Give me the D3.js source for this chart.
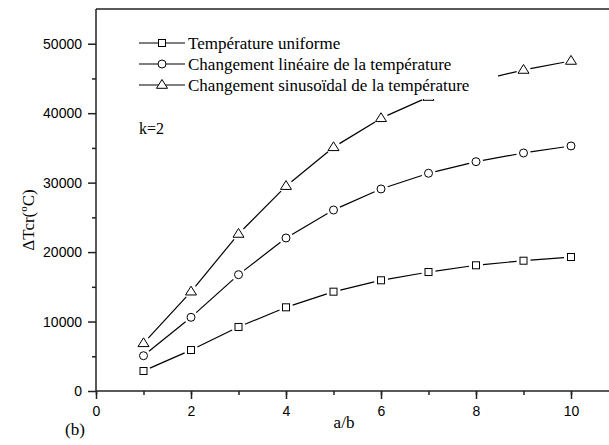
<!DOCTYPE html>
<html>
<head>
<meta charset="utf-8">
<script src="https://cdn.jsdelivr.net/npm/d3@7"></script>
<style>
  html, body { margin: 0; padding: 0; background: #fff; }
  svg { display: block; }
</style>
</head>
<body>
<svg id="chart" width="609" height="445"></svg>
<script>
// a/b ratios
const ratios = [1, 2, 3, 4, 5, 6, 7, 8, 9, 10];
// critical temperature difference (°C) for each temperature field
const uniformTemp = [2880, 5900, 9220, 12050, 14300, 15940, 17130, 18100, 18760, 19290];
const linearTemp  = [5080, 10610, 16750, 22030, 26060, 29090, 31350, 33020, 34270, 35280];
const sineTemp    = [6870, 14300, 22610, 29500, 35090, 39270, 42330, 44600, 46220, 47520];

const seriesNames = [
  "Température uniforme",
  "Changement linéaire de la température",
  "Changement sinusoïdal de la température"
];
const xTicks = [0, 2, 4, 6, 8, 10];
const yTicks = [0, 10000, 20000, 30000, 40000, 50000];

const svg = d3.select("#chart");
const plotLeft = 96, plotRight = 618.5, plotTop = 9, plotBottom = 391;

const x = d3.scaleLinear().domain([0, 11]).range([plotLeft, plotRight]);
const y = d3.scaleLinear().domain([0, 55000]).range([plotBottom, plotTop]);

const axisColor = "#222";
const sansFont = "'Liberation Sans', Arial, sans-serif";
const serifFont = "'Liberation Serif', 'Times New Roman', serif";

// frame: top edge
svg.append("line")
  .attr("x1", plotLeft).attr("x2", plotRight)
  .attr("y1", plotTop).attr("y2", plotTop)
  .attr("stroke", axisColor).attr("stroke-width", 1.5);

// x axis: minor ticks, then labelled major ticks
const xAxis = svg.append("g").attr("transform", `translate(0,${plotBottom})`);
xAxis.append("g")
  .call(d3.axisBottom(x).tickValues(d3.range(0, 12, 1)).tickSize(4).tickFormat(""))
  .call(g => g.select(".domain").remove())
  .call(g => g.selectAll(".tick line").attr("stroke", axisColor).attr("stroke-width", 1.5));
xAxis.append("g")
  .call(d3.axisBottom(x).tickValues(xTicks).tickSize(8).tickPadding(7))
  .call(g => g.select(".domain").remove())
  .call(g => g.selectAll(".tick line").attr("stroke", axisColor).attr("stroke-width", 1.5))
  .call(g => g.selectAll("text").attr("font-family", sansFont).attr("font-size", 14).attr("fill", "#000"));
svg.append("line")
  .attr("x1", plotLeft).attr("x2", plotRight)
  .attr("y1", plotBottom).attr("y2", plotBottom)
  .attr("stroke", axisColor).attr("stroke-width", 1.5);

// y axis: minor ticks, then labelled major ticks
const yAxis = svg.append("g").attr("transform", `translate(${plotLeft},0)`);
yAxis.append("g")
  .call(d3.axisLeft(y).tickValues(d3.range(5000, 55000, 10000)).tickSize(4).tickFormat(""))
  .call(g => g.select(".domain").remove())
  .call(g => g.selectAll(".tick line").attr("stroke", axisColor).attr("stroke-width", 1.5));
yAxis.append("g")
  .call(d3.axisLeft(y).tickValues(yTicks).tickSize(8).tickPadding(6).tickFormat(d3.format("d")))
  .call(g => g.select(".domain").remove())
  .call(g => g.selectAll(".tick line").attr("stroke", axisColor).attr("stroke-width", 1.5))
  .call(g => g.selectAll("text").attr("font-family", sansFont).attr("font-size", 14).attr("fill", "#000"));
svg.append("line")
  .attr("x1", plotLeft).attr("x2", plotLeft)
  .attr("y1", plotTop).attr("y2", plotBottom)
  .attr("stroke", axisColor).attr("stroke-width", 1.5);

// marker shapes
function drawMarker(g, kind, cx, cy) {
  if (kind === 0) {
    g.append("rect").attr("x", cx - 3.5).attr("y", cy - 3.5).attr("width", 7).attr("height", 7)
      .attr("fill", "#fff").attr("stroke", "#000").attr("stroke-width", 1);
  } else if (kind === 1) {
    g.append("circle").attr("cx", cx).attr("cy", cy).attr("r", 4)
      .attr("fill", "#fff").attr("stroke", "#000").attr("stroke-width", 1);
  } else {
    const s = 5.5;
    g.append("path")
      .attr("d", `M${cx},${cy - s}L${cx + s},${cy + s * 0.6}L${cx - s},${cy + s * 0.6}Z`)
      .attr("fill", "#fff").attr("stroke", "#000").attr("stroke-width", 1);
  }
}

// series: segments with a small gap around each marker
const series = [uniformTemp, linearTemp, sineTemp];
const gap = 7;
series.forEach((vals, k) => {
  const g = svg.append("g");
  const pts = ratios.map((r, i) => [x(r), y(vals[i])]);
  for (let i = 0; i < pts.length - 1; i++) {
    const [x1, y1] = pts[i], [x2, y2] = pts[i + 1];
    const dx = x2 - x1, dy = y2 - y1, len = Math.hypot(dx, dy);
    const ux = dx / len, uy = dy / len;
    g.append("line")
      .attr("x1", x1 + ux * gap).attr("y1", y1 + uy * gap)
      .attr("x2", x2 - ux * gap).attr("y2", y2 - uy * gap)
      .attr("stroke", "#000").attr("stroke-width", 1.2);
  }
  pts.forEach(p => drawMarker(g, k, p[0], p[1]));
});

// legend with opaque background
const legend = svg.append("g");
legend.append("rect")
  .attr("x", 128).attr("y", 27).attr("width", 370).attr("height", 72)
  .attr("fill", "#fff");
const rowY = [43, 64, 85];
seriesNames.forEach((name, k) => {
  legend.append("line")
    .attr("x1", 139).attr("x2", 185).attr("y1", rowY[k]).attr("y2", rowY[k])
    .attr("stroke", "#000").attr("stroke-width", 1.2);
  drawMarker(legend, k, 162, rowY[k]);
  legend.append("text")
    .attr("x", 188).attr("y", rowY[k] + 5.5)
    .attr("font-family", serifFont).attr("font-size", 17)
    .text(name);
});

// annotation
svg.append("text").attr("x", 139).attr("y", 134)
  .attr("font-family", serifFont).attr("font-size", 16).text("k=2");

// axis titles
svg.append("text").attr("x", 344).attr("y", 428).attr("text-anchor", "middle")
  .attr("font-family", serifFont).attr("font-size", 17).text("a/b");
svg.append("text").attr("x", 65).attr("y", 435)
  .attr("font-family", serifFont).attr("font-size", 17).text("(b)");

const yt = svg.append("text")
  .attr("transform", "translate(34,220) rotate(-90)")
  .attr("text-anchor", "middle")
  .attr("font-family", serifFont).attr("font-size", 17);
yt.append("tspan").text("ΔTcr(");
yt.append("tspan").attr("font-size", 11).attr("dy", -7).text("o");
yt.append("tspan").attr("dy", 7).text("C)");
</script>
</body>
</html>
